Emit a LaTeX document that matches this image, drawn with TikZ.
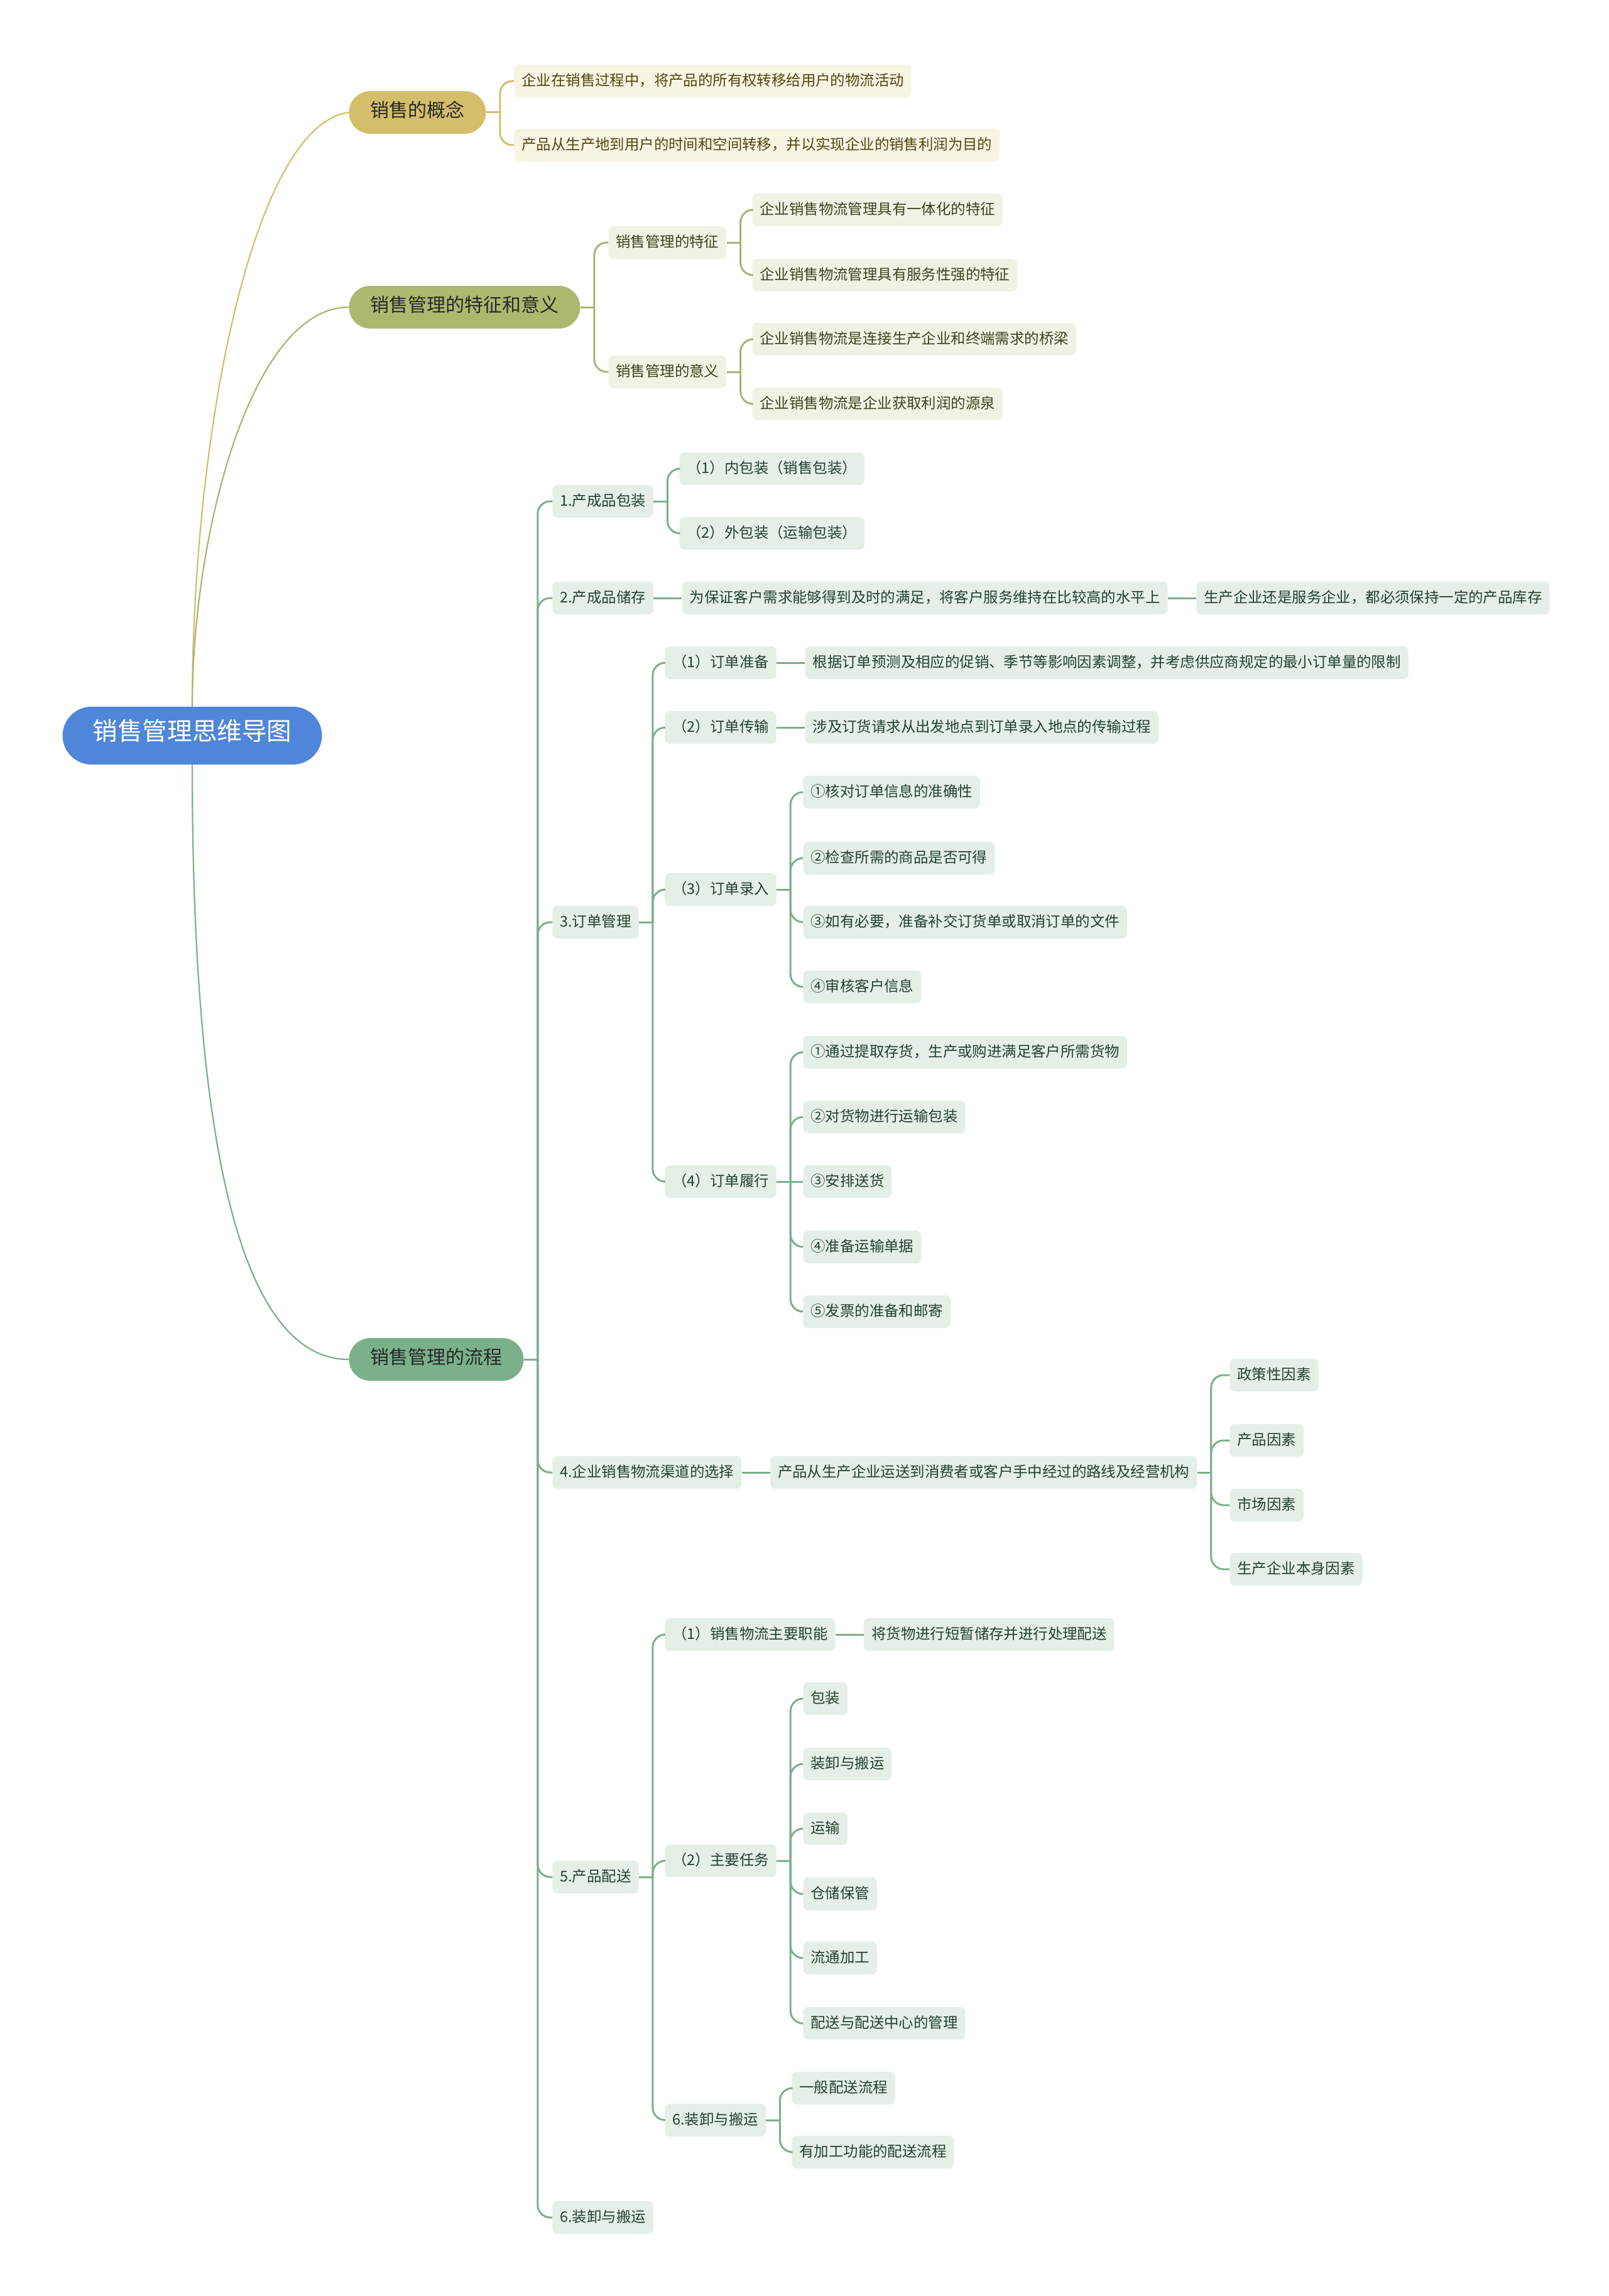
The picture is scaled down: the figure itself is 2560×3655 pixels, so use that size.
\documentclass[tikz,border=0pt]{standalone}
\usepackage{fontspec}
\setmainfont{Noto Sans CJK SC}
\usetikzlibrary{positioning}
\definecolor{rootBlue}{RGB}{79,134,217}
\definecolor{goldMain}{RGB}{212,190,106}
\definecolor{oliveMain}{RGB}{173,184,110}
\definecolor{greenMain}{RGB}{122,176,138}
\definecolor{goldLine}{RGB}{212,190,106}
\definecolor{oliveLine}{RGB}{170,181,110}
\definecolor{greenLine}{RGB}{122,176,138}
\definecolor{goldLeaf}{RGB}{248,244,226}
\definecolor{oliveLeaf}{RGB}{241,242,228}
\definecolor{greenLeaf}{RGB}{228,239,231}
\definecolor{goldText}{RGB}{82,70,22}
\definecolor{oliveText}{RGB}{62,68,30}
\definecolor{greenText}{RGB}{36,66,46}
\definecolor{topText}{RGB}{40,40,40}

\begin{document}
\begin{tikzpicture}[
				x=0.5pt, y=-0.5pt,
				node distance=22.5pt,
				rootbox/.style={fill=rootBlue, text=white, rounded corners=23pt, minimum height=46pt, inner xsep=24pt, inner ysep=0pt, text height=0.88em, text depth=0.12em, font=\fontsize{19.8}{22}\selectfont},
				topbox/.style={rounded corners=17pt, minimum height=34pt, inner xsep=17pt, inner ysep=0pt, text height=0.88em, text depth=0.12em, text=topText, font=\fontsize{15}{17}\selectfont, anchor=west},
				leaf/.style={rounded corners=4pt, minimum height=26pt, inner xsep=6pt, inner ysep=0pt, text height=0.88em, text depth=0.12em, font=\fontsize{11.7}{13}\selectfont, anchor=west},
				gdleaf/.style={leaf, fill=goldLeaf, text=goldText},
				olleaf/.style={leaf, fill=oliveLeaf, text=oliveText},
				grleaf/.style={leaf, fill=greenLeaf, text=greenText},
				link/.style={line width=1.5pt},
				rootlink/.style={line width=1.1pt}
			]
				\fill[white] (0,0) rectangle (2560,3655);
				\useasboundingbox (0,0) rectangle (2560,3655);

				\node[rootbox] (root) at (306,1171) {销售管理思维导图};

				% 销售的概念
				\node[topbox, fill=goldMain] (gn) at (555,179) {销售的概念};
				\node[gdleaf] (gn1) at (818,129) {企业在销售过程中，将产品的所有权转移给用户的物流活动};
				\node[gdleaf] (gn2) at (818,231) {产品从生产地到用户的时间和空间转移，并以实现企业的销售利润为目的};

				% 销售管理的特征和意义
				\node[topbox, fill=oliveMain] (ol) at (555,489) {销售管理的特征和意义};
				\node[olleaf] (ol1) at (968,386) {销售管理的特征};
				\node[olleaf] (ol2) at (968,592) {销售管理的意义};
				\node[olleaf] (ol11) at (1197,334) {企业销售物流管理具有一体化的特征};
				\node[olleaf] (ol12) at (1197,438) {企业销售物流管理具有服务性强的特征};
				\node[olleaf] (ol21) at (1197,540) {企业销售物流是连接生产企业和终端需求的桥梁};
				\node[olleaf] (ol22) at (1197,643) {企业销售物流是企业获取利润的源泉};

				% 销售管理的流程
				\node[topbox, fill=greenMain] (gr) at (555,2164) {销售管理的流程};
				\node[grleaf] (s1) at (879,798) {1.产成品包装};
				\node[grleaf] (s11) at (1081,746) {（1）内包装（销售包装）};
				\node[grleaf] (s12) at (1081,849) {（2）外包装（运输包装）};
				\node[grleaf] (s2) at (879,952) {2.产成品储存};
				\node[grleaf, right=of s2] (s21) {为保证客户需求能够得到及时的满足，将客户服务维持在比较高的水平上};
				\node[grleaf, right=of s21] (s22) {生产企业还是服务企业，都必须保持一定的产品库存};
				\node[grleaf] (s3) at (879,1468) {3.订单管理};
				\node[grleaf] (s31) at (1058,1055) {（1）订单准备};
				\node[grleaf, right=of s31] (s311) {根据订单预测及相应的促销、季节等影响因素调整，并考虑供应商规定的最小订单量的限制};
				\node[grleaf] (s32) at (1058,1158) {（2）订单传输};
				\node[grleaf, right=of s32] (s321) {涉及订货请求从出发地点到订单录入地点的传输过程};
				\node[grleaf] (s33) at (1058,1416) {（3）订单录入};
				\node[grleaf] (s331) at (1278,1261) {①核对订单信息的准确性};
				\node[grleaf] (s332) at (1278,1366) {②检查所需的商品是否可得};
				\node[grleaf] (s333) at (1278,1468) {③如有必要，准备补交订货单或取消订单的文件};
				\node[grleaf] (s334) at (1278,1571) {④审核客户信息};
				\node[grleaf] (s34) at (1058,1881) {（4）订单履行};
				\node[grleaf] (s341) at (1278,1675) {①通过提取存货，生产或购进满足客户所需货物};
				\node[grleaf] (s342) at (1278,1778) {②对货物进行运输包装};
				\node[grleaf] (s343) at (1278,1881) {③安排送货};
				\node[grleaf] (s344) at (1278,1985) {④准备运输单据};
				\node[grleaf] (s345) at (1278,2088) {⑤发票的准备和邮寄};
				\node[grleaf] (s4) at (879,2344) {4.企业销售物流渠道的选择};
				\node[grleaf, right=of s4] (s41) {产品从生产企业运送到消费者或客户手中经过的路线及经营机构};
				\node[grleaf] (s411) at (1957,2189) {政策性因素};
				\node[grleaf] (s412) at (1957,2293) {产品因素};
				\node[grleaf] (s413) at (1957,2396) {市场因素};
				\node[grleaf] (s414) at (1957,2498) {生产企业本身因素};
				\node[grleaf] (s5) at (879,2988) {5.产品配送};
				\node[grleaf] (s51) at (1058,2602) {（1）销售物流主要职能};
				\node[grleaf, right=of s51] (s511) {将货物进行短暂储存并进行处理配送};
				\node[grleaf] (s52) at (1058,2962) {（2）主要任务};
				\node[grleaf] (s521) at (1278,2704) {包装};
				\node[grleaf] (s522) at (1278,2808) {装卸与搬运};
				\node[grleaf] (s523) at (1278,2911) {运输};
				\node[grleaf] (s524) at (1278,3015) {仓储保管};
				\node[grleaf] (s525) at (1278,3117) {流通加工};
				\node[grleaf] (s526) at (1278,3221) {配送与配送中心的管理};
				\node[grleaf] (s53) at (1058,3375) {6.装卸与搬运};
				\node[grleaf] (s531) at (1260,3324) {一般配送流程};
				\node[grleaf] (s532) at (1260,3426) {有加工功能的配送流程};
				\node[grleaf] (s6) at (879,3530) {6.装卸与搬运};

				% root to main branches
				\draw[rootlink, goldLine] (root.north) .. controls (306,700) and (400,200) .. (gn.west);
				\draw[rootlink, oliveLine] (root.north) .. controls (306,850) and (400,489) .. (ol.west);
				\draw[rootlink, greenLine] (root.south) .. controls (306,1850) and (390,2164) .. (gr.west);

				% parent to children
				\foreach \p/\cs/\col in {gn/{gn1,gn2}/goldLine, ol/{ol1,ol2}/oliveLine, ol1/{ol11,ol12}/oliveLine, ol2/{ol21,ol22}/oliveLine,
						gr/{s1,s2,s3,s4,s5,s6}/greenLine, s1/{s11,s12}/greenLine,
						s3/{s31,s32,s33,s34}/greenLine, s33/{s331,s332,s333,s334}/greenLine, s34/{s341,s342,s344,s345}/greenLine,
						s41/{s411,s412,s413,s414}/greenLine,
						s5/{s51,s52,s53}/greenLine, s52/{s521,s522,s523,s524,s525,s526}/greenLine, s53/{s531,s532}/greenLine}{
					\draw[link, \col] (\p.east) -- ++(11pt,0) coordinate (t);
					\foreach \c in \cs
						\draw[link, \col, rounded corners=10pt] (t) |- (\c.west);
				}
				% same row
				\foreach \p/\c in {s2/s21, s21/s22, s31/s311, s32/s321, s34/s343, s4/s41, s51/s511}
					\draw[link, greenLine] (\p.east) -- (\c.west);
			\end{tikzpicture}
\end{document}
